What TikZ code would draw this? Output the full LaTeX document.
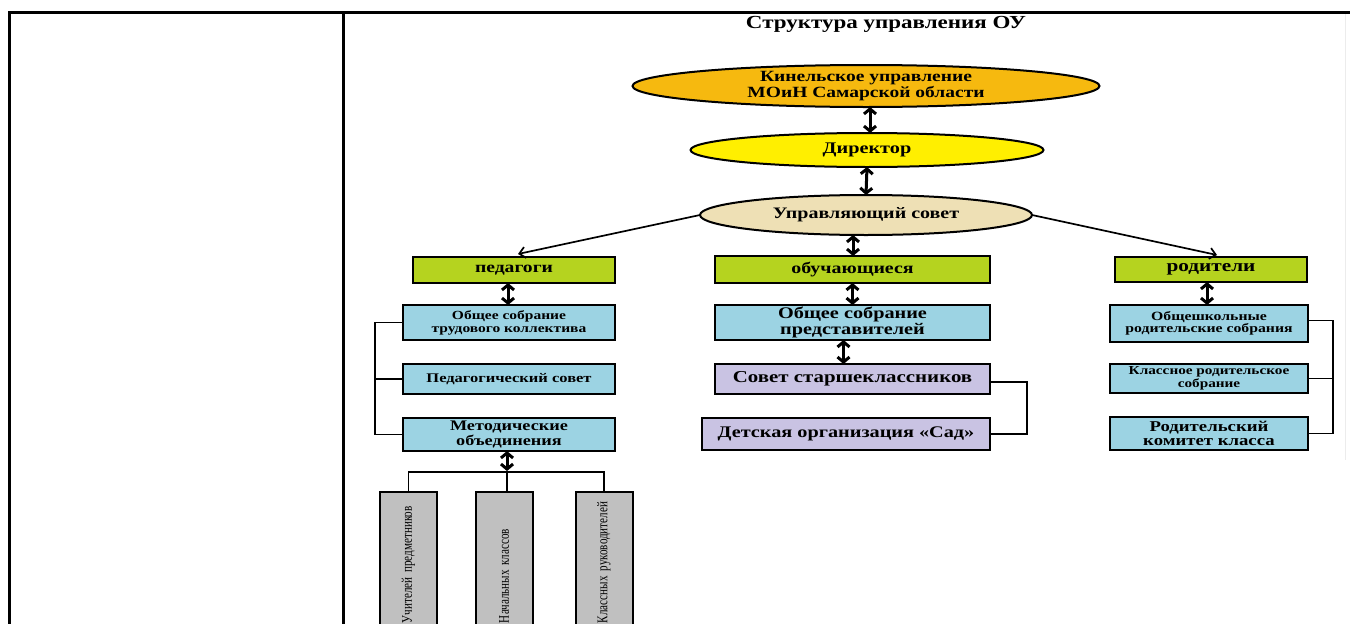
\documentclass[tikz,border=0pt]{standalone}
\usepackage{fontspec}
\setmainfont{Liberation Serif}
\newfontfamily\widefont[FakeStretch=1.25]{Liberation Serif}
\newfontfamily\narrowfont[FakeStretch=0.75]{Liberation Serif}
\usetikzlibrary{arrows.meta,shapes.geometric}
\newcommand{\fsz}[2]{\fontsize{#1}{#2}\selectfont}
\definecolor{cgold}{HTML}{F6B90F}
\definecolor{cyel}{HTML}{FFEF00}
\definecolor{cbeige}{HTML}{EEE0B5}
\definecolor{cgreen}{HTML}{B5D31F}
\definecolor{cblue}{HTML}{9CD3E3}
\definecolor{cviolet}{HTML}{C9C3E3}
\definecolor{cgray}{HTML}{C0C0C0}
\tikzset{
  ell/.style={ellipse, draw, line width=2pt, inner sep=0pt, outer sep=0pt, align=center, font=\widefont\bfseries},
  box/.style={rectangle, draw, line width=2.3pt, inner sep=0pt, outer sep=0pt, align=center, font=\widefont\bfseries},
  gbox/.style={rectangle, draw, line width=2pt, fill=cgray, rotate=90, inner xsep=3pt, inner ysep=0pt,
     outer sep=0pt, text width=128pt, align=left, minimum height=57pt, font=\narrowfont\fsz{14.8}{15}},
  darrow/.style={{Straight Barb[length=5pt,width=12pt]}-{Straight Barb[length=5pt,width=12pt]}, line width=3pt},
  sarrow/.style={-{Straight Barb[length=6pt,width=11pt]}, line width=1.7pt},
  conn/.style={line width=1.8pt},
  frame/.style={line width=3pt}
}
\begin{document}
\begin{tikzpicture}[x=1pt,y=-1pt]
\useasboundingbox (0,0) rectangle (1350,624);
\clip (0,0) rectangle (1350,624);
\fill[white] (0,0) rectangle (1350,624);
% table frame
\draw[frame] (8,12) -- (1350,12);
\draw[frame] (9,12) -- (9,624);
\draw[frame] (343,12) -- (343,624);
\draw[gray!15, line width=1pt] (1345,14) -- (1345,460);

% title
\node[font=\widefont\bfseries\fsz{18.4}{18}] (title) at (886,24) {Структура управления ОУ};

% ellipses
\node[ell, fill=cgold, minimum width=467pt, minimum height=42pt, font=\widefont\bfseries\fsz{15.6}{14.5}] (e1) at (866,86)
  {Кинельское управление\\МОиН Самарской области};
\node[ell, fill=cyel, minimum width=353pt, minimum height=34pt, font=\widefont\bfseries\fsz{16.2}{16}] (e2) at (867,150) {Директор};
\node[ell, fill=cbeige, minimum width=332pt, minimum height=40pt, font=\widefont\bfseries\fsz{16}{16}] (e3) at (866,215) {Управляющий совет};

% green boxes
\node[box, fill=cgreen, minimum width=202pt, minimum height=26pt, font=\widefont\bfseries\fsz{15.7}{16}] (ped) at (514,270) {педагоги};
\node[box, fill=cgreen, minimum width=275pt, minimum height=27pt, font=\widefont\bfseries\fsz{15.9}{16}] (obuch) at (852.5,269.5) {обучающиеся};
\node[box, fill=cgreen, minimum width=192pt, minimum height=25pt, font=\widefont\bfseries\fsz{17}{16}] (rod) at (1211,269.5) {родители};

% left column
\node[box, fill=cblue, minimum width=212pt, minimum height=35pt, font=\widefont\bfseries\fsz{12.4}{13}] (osk) at (509,322.5) {Общее собрание\\трудового коллектива};
\node[box, fill=cblue, minimum width=212pt, minimum height=30pt, font=\widefont\bfseries\fsz{13.2}{13}] (pedsov) at (509,379) {Педагогический совет};
\node[box, fill=cblue, minimum width=212pt, minimum height=33pt, font=\widefont\bfseries\fsz{14.6}{15}] (metod) at (509,434.5) {Методические\\объединения};

% middle column
\node[box, fill=cblue, minimum width=275pt, minimum height=35pt, font=\widefont\bfseries\fsz{16.2}{14.5}] (osp) at (852.5,322.5) {Общее собрание\\представителей};
\node[box, fill=cviolet, minimum width=275pt, minimum height=30pt, font=\widefont\bfseries\fsz{16.7}{16}] (sovet) at (852.5,379) {Совет старшеклассников};
\node[box, fill=cviolet, minimum width=288pt, minimum height=32pt, font=\widefont\bfseries\fsz{16.2}{16}] (sad) at (846,434) {Детская организация «Сад»};

% right column
\node[box, fill=cblue, minimum width=198pt, minimum height=37pt, font=\widefont\bfseries\fsz{12.6}{12.5}] (obsh) at (1209,323.5) {Общешкольные\\родительские собрания};
\node[box, fill=cblue, minimum width=198pt, minimum height=29pt, font=\widefont\bfseries\fsz{12.2}{12.5}] (klass) at (1209,378.5) {Классное родительское\\собрание};
\node[box, fill=cblue, minimum width=198pt, minimum height=33pt, font=\widefont\bfseries\fsz{15}{14.5}] (komitet) at (1209,433.5) {Родительский\\комитет класса};

% gray boxes
\node[gbox, minimum width=134pt] (g1) at (408.5,559) {Учителей предметников};
\node[gbox, minimum width=134pt] (g2) at (504,559) {Начальных классов};
\node[gbox, minimum width=134pt] (g3) at (604,559) {Классных руководителей};

% junction below metod
\coordinate (j) at (507,472);

% vertical double arrows
\draw[darrow] ([xshift=4pt]e1.south) -- ([xshift=3pt]e2.north);
\draw[darrow] (e2.south) -- (e3.north);
\draw[darrow] ([xshift=-13pt]e3.south) -- ([xshift=0.5pt]obuch.north);
\draw[darrow] ([xshift=-6pt]ped.south) -- ([xshift=-1pt]osk.north);
\draw[darrow] (obuch.south) -- (osp.north);
\draw[darrow] ([xshift=-4pt]rod.south) -- ([xshift=-2pt]obsh.north);
\draw[darrow] ([xshift=-9pt]osp.south) -- ([xshift=-9pt]sovet.north);
\draw[darrow] ([xshift=-2pt]metod.south) -- ([yshift=1pt]j);

% diagonal arrows
\draw[sarrow] (e3.west) -- ([xshift=4pt,yshift=3pt]ped.north);
\draw[sarrow] (e3.east) -- ([xshift=6pt,yshift=2pt]rod.north);

% tree below metod
\draw[conn] (g1.east) |- (j) -| (g3.east);
\draw[conn] (j) -- (j |- g2.east);

% brackets
\draw[conn] (osk.west) -- ++(-28,0) |- (metod.west);
\draw[conn] (pedsov.west) -- ++(-28,0);
\draw[conn] ([yshift=-3pt]sovet.east) -- ++(37,0) |- (sad.east);
\draw[conn] ([yshift=3pt]obsh.east) -- ++(25,0) |- (komitet.east);
\draw[conn] (klass.east) -- ++(25,0);
\end{tikzpicture}
\end{document}
